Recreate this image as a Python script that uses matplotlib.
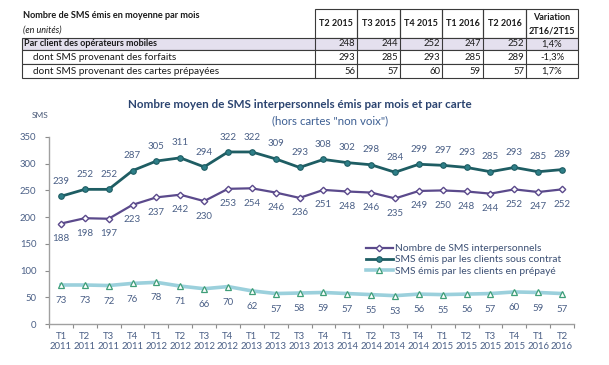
import matplotlib.pyplot as plt
import numpy as np
from matplotlib.patches import Rectangle

plt.rcParams["font.family"] = ["Lato", "DejaVu Sans"]

# --- data ---
quarters = ["T1\n2011", "T2\n2011", "T3\n2011", "T4\n2011",
            "T1\n2012", "T2\n2012", "T3\n2012", "T4\n2012",
            "T1\n2013", "T2\n2013", "T3\n2013", "T4\n2013",
            "T1\n2014", "T2\n2014", "T3\n2014", "T4\n2014",
            "T1\n2015", "T2\n2015", "T3\n2015", "T4\n2015",
            "T1\n2016", "T2\n2016"]
sms_total = [188, 198, 197, 223, 237, 242, 230, 253, 254, 246, 236,
             251, 248, 246, 235, 249, 250, 248, 244, 252, 247, 252]
sms_contrat = [239, 252, 252, 287, 305, 311, 294, 322, 322, 309, 293,
               308, 302, 298, 284, 299, 297, 293, 285, 293, 285, 289]
sms_prepaye = [73, 73, 72, 76, 78, 71, 66, 70, 62, 57, 58,
               59, 57, 55, 53, 56, 55, 56, 57, 60, 59, 57]

table_cols = ["T2 2015", "T3 2015", "T4 2015", "T1 2016", "T2 2016"]
table_rows = ["Par client des opérateurs mobiles",
              "dont SMS provenant des forfaits",
              "dont SMS provenant des cartes prépayées"]
table_vals = [[248, 244, 252, 247, 252],
              [293, 285, 293, 285, 289],
              [56, 57, 60, 59, 57]]
table_var = ["1,4%", "-1,3%", "1,7%"]

W, H = 609, 365
fig = plt.figure(figsize=(W / 100, H / 100), dpi=100)

# overlay in pixel coordinates for table and titles
ov = fig.add_axes([0, 0, 1, 1])
ov.set_xlim(0, W)
ov.set_ylim(H, 0)
ov.axis("off")

edge = "#3a3a3a"
txt = "#1a1a1a"
col_x = [315, 357, 400, 442, 483, 526, 578]
row_y = [9, 38, 50, 64, 78]
left = 22

ov.text(left + 1, 16, "Nombre de SMS émis en moyenne par mois", fontsize=6.6,
        fontweight="bold", color=txt, va="center")
ov.text(left + 1, 30, "(en unités)", fontsize=6.5, style="italic",
        color=txt, va="center")

# header cells
for i in range(6):
    ov.add_patch(Rectangle((col_x[i], row_y[0]), col_x[i + 1] - col_x[i],
                           row_y[1] - row_y[0], fill=False, ec=edge, lw=0.8))
for i, c in enumerate(table_cols):
    ov.text((col_x[i] + col_x[i + 1]) / 2, 24, c, fontsize=6.5,
            fontweight="bold", ha="center", va="center", color=txt)
ov.text((col_x[5] + col_x[6]) / 2, 24, "Variation\n2T16/2T15", fontsize=6.5,
        fontweight="bold", ha="center", va="center", color=txt,
        linespacing=1.6)

# body rows
for r in range(3):
    y0, y1 = row_y[r + 1], row_y[r + 2]
    fc = "#e4e0ee" if r == 0 else "white"
    ov.add_patch(Rectangle((left, y0), col_x[-1] - left, y1 - y0,
                           fc=fc, ec=edge, lw=0.8))
    for cx in col_x[:-1]:
        ov.plot([cx, cx], [y0, y1], color=edge, lw=0.8)
    ym = (y0 + y1) / 2
    if r == 0:
        ov.text(left + 2, ym, table_rows[r], fontsize=6.5, fontweight="bold",
                va="center", color=txt)
    else:
        ov.text(left + 11, ym, table_rows[r], fontsize=7.2,
                va="center", color=txt)
    for i, v in enumerate(table_vals[r]):
        ov.text(col_x[i + 1] - 2, ym, str(v), fontsize=6.8, ha="right",
                va="center", color=txt)
    ov.text((col_x[5] + col_x[6]) / 2, ym, table_var[r], fontsize=6.8,
            ha="center", va="center", color=txt)

# chart titles
ov.text(300, 104, "Nombre moyen de SMS interpersonnels émis par mois et par carte",
        fontsize=8.4, fontweight="bold", color="#2b4470", ha="center",
        va="center")
ov.text(330, 121, '(hors cartes "non voix")', fontsize=8.3, color="#3d5f93",
        ha="center", va="center")
ov.text(40, 116, "SMS", fontsize=6, color="#4a5a78", ha="center",
        va="center")

# --- chart ---
ax = fig.add_axes([49 / W, 1 - 324 / H, (574 - 49) / W, (324 - 137) / H])
x = np.arange(len(quarters))
lab = "#4a5f86"

c_total = "#5b4a8c"
c_contrat = "#1e5d63"
c_prep = "#9bd0dc"

ax.plot(x, sms_total, color=c_total, lw=1.6, marker="D", ms=3.3,
        mfc="white", mec=c_total, mew=1.0,
        label="Nombre de SMS interpersonnels")
ax.plot(x, sms_contrat, color=c_contrat, lw=2.0, marker="o", ms=4,
        mfc="#2e7f88", mec=c_contrat, mew=0.8,
        label="SMS émis par les clients sous contrat")
ax.plot(x, sms_prepaye, color=c_prep, lw=2.6, marker="^", ms=4,
        mfc="white", mec="#3f9e78", mew=0.9,
        label="SMS émis par les clients en prépayé")

for xi, v in zip(x, sms_contrat):
    ax.annotate(str(v), (xi, v), xytext=(0, 7.5), textcoords="offset points",
                ha="center", va="bottom", fontsize=7, color=lab)
for xi, v in zip(x, sms_total):
    ax.annotate(str(v), (xi, v), xytext=(0, -7.5), textcoords="offset points",
                ha="center", va="top", fontsize=7, color=lab)
for xi, v in zip(x, sms_prepaye):
    ax.annotate(str(v), (xi, v), xytext=(0, -8), textcoords="offset points",
                ha="center", va="top", fontsize=7, color=lab)

ax.set_xlim(-0.5, len(quarters) - 0.5)
ax.set_ylim(0, 350)
ax.set_yticks(range(0, 351, 50))
ax.set_xticks(x)
ax.set_xticklabels(quarters, fontsize=6.9, color=lab, linespacing=1.25)
ax.set_xticks(np.arange(-0.5, len(quarters), 1), minor=True)
ax.tick_params(axis="x", which="major", length=0, pad=5.5)
ax.tick_params(axis="x", which="minor", length=3, color="#8c8c8c", width=0.8)
ax.tick_params(axis="y", length=3, color="#8c8c8c", width=0.8,
               labelsize=6.8, labelcolor=lab, pad=6)
for s in ["top", "right"]:
    ax.spines[s].set_visible(False)
for s in ["left", "bottom"]:
    ax.spines[s].set_color("#a0a0a0")
    ax.spines[s].set_linewidth(1.0)
ax.patch.set_alpha(0)

leg = ax.legend(loc="upper left", bbox_to_anchor=(366 / W, 1 - 244 / H),
                bbox_transform=fig.transFigure, frameon=False, fontsize=7.4,
                handlelength=2.6, handletextpad=0.2, labelspacing=0.2,
                borderpad=0, borderaxespad=0)
for t in leg.get_texts():
    t.set_color("#3b4f73")

fig.savefig("out.png", dpi=100)
